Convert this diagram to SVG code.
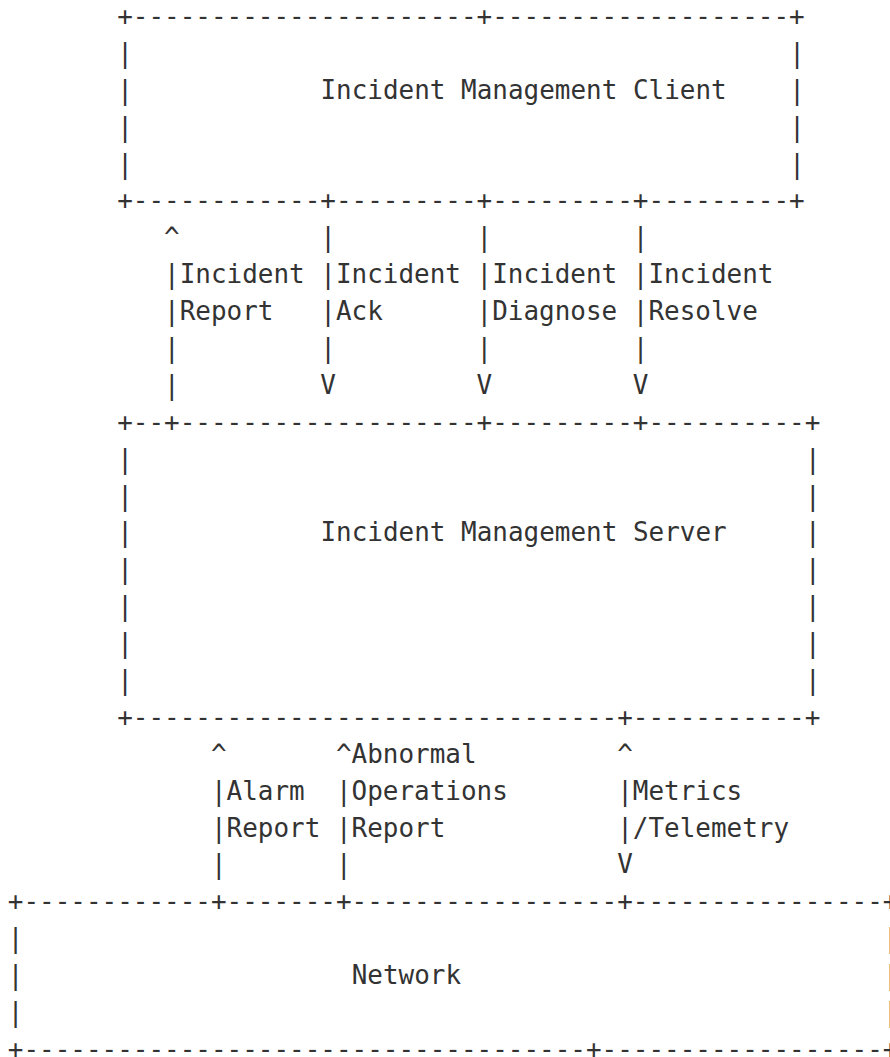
<svg xmlns="http://www.w3.org/2000/svg" width="890" height="1057" viewBox="0 0 890 1057">
<style>
text { font-family: "DejaVu Sans Mono", "Liberation Mono", monospace; font-size: 25.96px; fill: #333333; white-space: pre; }
</style>
<rect x="0" y="0" width="890" height="1057" fill="#ffffff"/>
<g id="client" xml:space="preserve">
<text x="117.21" y="25">+----------------------+-------------------+</text>
<text x="117.21" y="61.89">|</text><text x="789.3" y="61.89">|</text>
<text x="117.21" y="98.78">|</text><text x="320.4" y="98.78">Incident Management Client</text><text x="789.3" y="98.78">|</text>
<text x="117.21" y="135.67">|</text><text x="789.3" y="135.67">|</text>
<text x="117.21" y="172.56">|</text><text x="789.3" y="172.56">|</text>
<text x="117.21" y="209.45">+------------+---------+---------+---------+</text>
</g>
<g id="connectors" xml:space="preserve">
<text x="164.1" y="246.34">^         |         |         |</text>
<text x="164.1" y="283.23">|Incident |Incident |Incident |Incident</text>
<text x="164.1" y="320.12">|Report   |Ack      |Diagnose |Resolve</text>
<text x="164.1" y="357.01">|         |         |         |</text>
<text x="164.1" y="393.9">|         V         V         V</text>
<text x="210.99" y="762.8">^       ^Abnormal         ^</text>
<text x="210.99" y="799.69">|Alarm  |Operations       |Metrics</text>
<text x="210.99" y="836.58">|Report |Report           |/Telemetry</text>
<text x="210.99" y="873.47">|       |                 V</text>
</g>
<g id="server" xml:space="preserve">
<text x="117.21" y="430.79">+--+-------------------+---------+----------+</text>
<text x="117.21" y="467.68">|</text><text x="804.93" y="467.68">|</text>
<text x="117.21" y="504.57">|</text><text x="804.93" y="504.57">|</text>
<text x="117.21" y="541.46">|</text><text x="320.4" y="541.46">Incident Management Server</text><text x="804.93" y="541.46">|</text>
<text x="117.21" y="578.35">|</text><text x="804.93" y="578.35">|</text>
<text x="117.21" y="615.24">|</text><text x="804.93" y="615.24">|</text>
<text x="117.21" y="652.13">|</text><text x="804.93" y="652.13">|</text>
<text x="117.21" y="689.02">|</text><text x="804.93" y="689.02">|</text>
<text x="117.21" y="725.91">+-------------------------------+-----------+</text>
</g>
<g id="network" xml:space="preserve">
<text x="7.8" y="910.36">+------------+-------+-----------------+----------------+</text>
<text x="7.8" y="947.25">|</text><text x="883.08" y="947.25">|</text>
<text x="7.8" y="984.14">|</text><text x="351.66" y="984.14">Network</text><text x="883.08" y="984.14">|</text>
<text x="7.8" y="1021.03">|</text><text x="883.08" y="1021.03">|</text>
<text x="7.8" y="1057.92">+------------------------------------+------------------+</text>
</g>
</svg>
